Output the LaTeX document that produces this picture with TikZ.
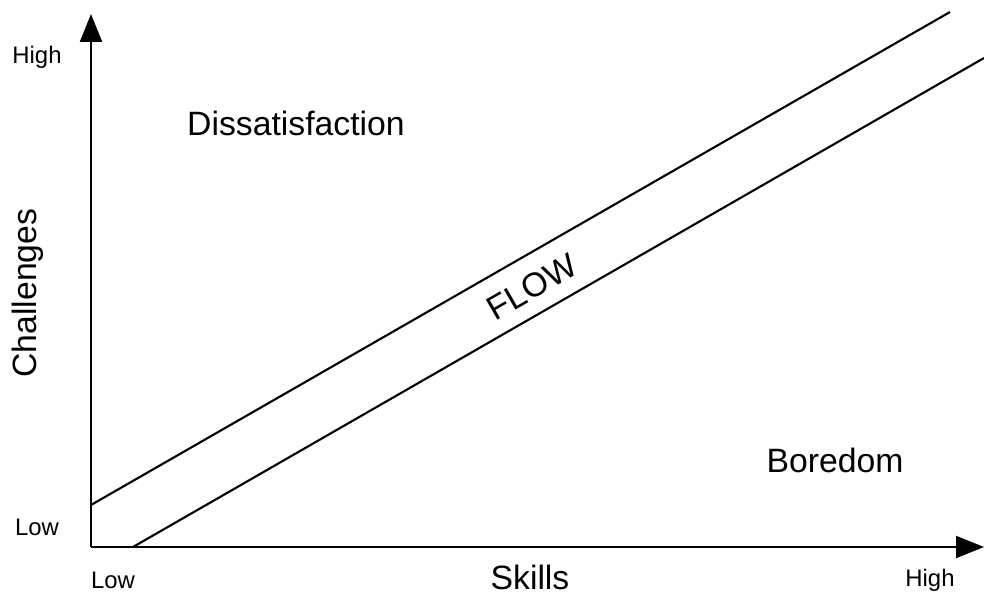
\documentclass[tikz,border=0pt]{standalone}
\usepackage{fontspec}
\setmainfont{Liberation Sans}
\usetikzlibrary{arrows.meta,positioning}

\begin{document}
\begin{tikzpicture}[x=1cm,y=1cm,
    axis/.style={line width=1.5pt, -{Triangle[width=0.55cm,length=0.7cm]}},
    band/.style={line width=1.5pt},
    bigtext/.style={font=\fontsize{24}{28}\selectfont},
    ticktext/.style={font=\fontsize{17}{20}\selectfont}]
    \useasboundingbox (0,0) rectangle (24.6,14.9);

    %Coordinates
    \coordinate (origin)      at (2.275,1.225);
    \coordinate (y_top)       at (2.275,14.55);
    \coordinate (x_right)     at (24.6,1.225);
    \coordinate (upper_start) at (2.275,2.275);
    \coordinate (upper_end)   at (23.75,14.6);
    \coordinate (lower_start) at (3.325,1.225);
    \coordinate (lower_end)   at (24.6,13.45);

    %Lines
    \draw[axis] (origin) -- (y_top);
    \draw[axis] (origin) -- (x_right);
    \draw[band] (upper_start) -- (upper_end);
    \draw[band] (lower_start) -- (lower_end);

    % Region labels
    \begin{scope}[every node/.style={bigtext, inner sep=0pt}]
    \node (dissatisfaction) at (7.4,11.825)  {Dissatisfaction};
    \node (boredom)         at (20.875,3.4)  {Boredom};
    \node (flow)            at (13.3,7.725) [rotate=29.9] {FLOW};
    \node (skills)          at (13.25,0.47)  {Skills};
    \node (challenges)      at (0.7,7.575) [rotate=90] {Challenges};
    \end{scope}

    % Axis ends
    \begin{scope}[every node/.style={ticktext, inner sep=0pt}]
    \node (y_high) at (0.925,13.475) {High};
    \node (y_low)  at (0.925,1.725)  {Low};
    \node (x_low)  at (2.825,0.4)    {Low};
    \node (x_high) at (23.25,0.4)    {High};
    \end{scope}
\end{tikzpicture}
\end{document}
